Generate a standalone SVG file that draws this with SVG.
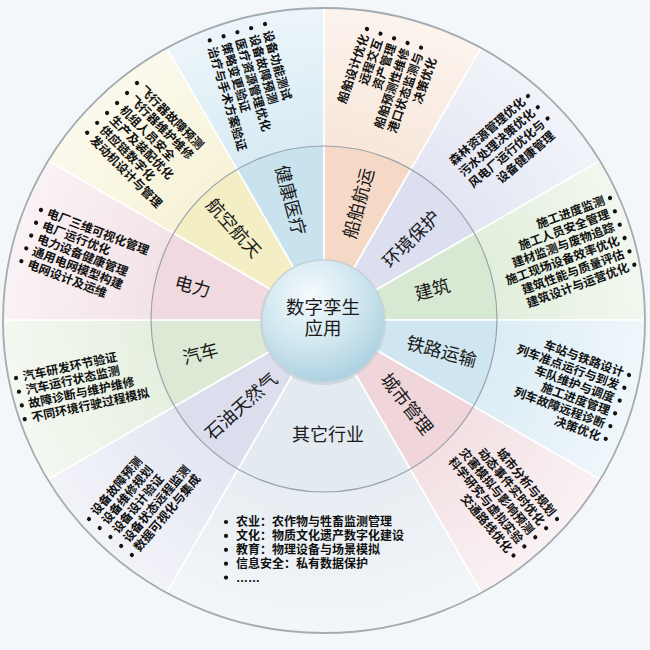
<svg xmlns="http://www.w3.org/2000/svg" width="650" height="650" viewBox="0 0 650 650">
<defs>
<style>
.lst{font-family:"Noto Sans CJK SC","Noto Sans",sans-serif;font-size:12px;font-weight:700;fill:#111}
.lst2{font-family:"Liberation Sans","Noto Sans CJK SC",sans-serif;font-size:12px;font-weight:700;fill:#111}
.end{text-anchor:end}
.lbl{font-family:"Noto Sans CJK SC","Noto Sans",sans-serif;font-size:18px;fill:#1a1a1a;text-anchor:middle;dominant-baseline:central}
.ctr{font-family:"Liberation Sans","Noto Sans CJK SC",sans-serif;font-size:18.5px;fill:#1a1a1a;text-anchor:middle}
.sep{stroke:#ffffff;stroke-width:1.6}
.b{fill:#111}
</style>
<clipPath id="outerClip"><ellipse cx="324" cy="320.5" rx="321" ry="312.5"/></clipPath>
<clipPath id="innerClip"><circle cx="324" cy="319" r="173"/></clipPath>
<radialGradient id="fade" gradientUnits="userSpaceOnUse" cx="324" cy="320" r="321">
<stop offset="0.54" stop-color="#ffffff" stop-opacity="0"/>
<stop offset="1" stop-color="#ffffff" stop-opacity="0.55"/>
</radialGradient>
<radialGradient id="hub" cx="0.4" cy="0.3" r="0.75">
<stop offset="0" stop-color="#f6fbfd"/>
<stop offset="0.55" stop-color="#cfe6ef"/>
<stop offset="1" stop-color="#a8cfdf"/>
</radialGradient>
</defs>
<rect x="0" y="0" width="650" height="650" fill="#f3f7fa"/>

<g id="sector-chuanbo">
<polygon class="sep" clip-path="url(#outerClip)" fill="#f8e7da" points="324,320 324,-180 574,-113"/>
<polygon clip-path="url(#outerClip)" fill="url(#fade)" points="324,320 324,-180 574,-113"/>
<polygon class="sep" clip-path="url(#innerClip)" fill="#f5d9c6" points="324,320 324,-180 574,-113"/>
<text class="lbl" transform="translate(357,203) rotate(-75)">船舶航运</text>
<g class="lst end" transform="translate(367,29) rotate(-71)">
<circle class="b" cx="0" cy="0" r="2.1"/><text x="-6" y="4.2">船舶设计优化</text>
<circle class="b" cx="0" cy="14.3" r="2.1"/><text x="-6" y="18.5">远程交互</text>
<circle class="b" cx="0" cy="28.6" r="2.1"/><text x="-6" y="32.8">资产管理</text>
<circle class="b" cx="0" cy="42.9" r="2.1"/><text x="-6" y="47.1">船舶预测性维修</text>
<circle class="b" cx="0" cy="57.2" r="2.1"/><text x="-6" y="61.4">港口状态监测与</text>
<text x="-6" y="75.7">决策优化</text>
</g>
</g>

<g id="sector-huanjing">
<polygon class="sep" clip-path="url(#outerClip)" fill="#e3e6f3" points="324,320 574,-113 757,70"/>
<polygon clip-path="url(#outerClip)" fill="url(#fade)" points="324,320 574,-113 757,70"/>
<polygon class="sep" clip-path="url(#innerClip)" fill="#dcdff0" points="324,320 574,-113 757,70"/>
<text class="lbl" transform="translate(410,238) rotate(-45)">环境保护</text>
<g class="lst end" transform="translate(528,96) rotate(-41)">
<circle class="b" cx="0" cy="0" r="2.1"/><text x="-6" y="4.2">森林资源管理优化</text>
<circle class="b" cx="0" cy="14.9" r="2.1"/><text x="-6" y="19.1">污水处理决策优化</text>
<circle class="b" cx="0" cy="29.8" r="2.1"/><text x="-6" y="34">风电厂运行优化与</text>
<text x="-6" y="48.9">设备健康管理</text>
</g>
</g>

<g id="sector-jianzhu">
<polygon class="sep" clip-path="url(#outerClip)" fill="#e2efdc" points="324,320 757,70 824,320"/>
<polygon clip-path="url(#outerClip)" fill="url(#fade)" points="324,320 757,70 824,320"/>
<polygon class="sep" clip-path="url(#innerClip)" fill="#d8e9d3" points="324,320 757,70 824,320"/>
<text class="lbl" transform="translate(432,288) rotate(-15)">建筑</text>
<g class="lst end" transform="translate(610,198) rotate(-20)">
<circle class="b" cx="0" cy="0" r="2.1"/><text x="-6" y="4.2">施工进度监测</text>
<circle class="b" cx="0" cy="14.2" r="2.1"/><text x="-6" y="18.4">施工人员安全管理</text>
<circle class="b" cx="0" cy="28.4" r="2.1"/><text x="-6" y="32.6">建材监测与废物追踪</text>
<circle class="b" cx="0" cy="42.6" r="2.1"/><text x="-6" y="46.8">施工现场设备效率优化</text>
<circle class="b" cx="0" cy="56.8" r="2.1"/><text x="-6" y="61">建筑性能与质量评估</text>
<circle class="b" cx="0" cy="71" r="2.1"/><text x="-6" y="75.2">建筑设计与运营优化</text>
</g>
</g>

<g id="sector-tielu">
<polygon class="sep" clip-path="url(#outerClip)" fill="#dcedf5" points="324,320 824,320 757,570"/>
<polygon clip-path="url(#outerClip)" fill="url(#fade)" points="324,320 824,320 757,570"/>
<polygon class="sep" clip-path="url(#innerClip)" fill="#cfe6f0" points="324,320 824,320 757,570"/>
<text class="lbl" transform="translate(442,350) rotate(15)">铁路运输</text>
<g class="lst end" transform="translate(629,375) rotate(20)">
<circle class="b" cx="0" cy="0" r="2.1"/><text x="-6" y="4.2">车站与铁路设计</text>
<circle class="b" cx="0" cy="13.6" r="2.1"/><text x="-6" y="17.8">列车准点运行与到发</text>
<circle class="b" cx="0" cy="27.2" r="2.1"/><text x="-6" y="31.4">车队维护与调度</text>
<circle class="b" cx="0" cy="40.8" r="2.1"/><text x="-6" y="45">施工进度管理</text>
<circle class="b" cx="0" cy="54.4" r="2.1"/><text x="-6" y="58.6">列车故障远程诊断</text>
<circle class="b" cx="0" cy="68" r="2.1"/><text x="-6" y="72.2">决策优化</text>
</g>
</g>

<g id="sector-chengshi">
<polygon class="sep" clip-path="url(#outerClip)" fill="#f3e1e4" points="324,320 757,570 574,753"/>
<polygon clip-path="url(#outerClip)" fill="url(#fade)" points="324,320 757,570 574,753"/>
<polygon class="sep" clip-path="url(#innerClip)" fill="#f0d6da" points="324,320 757,570 574,753"/>
<text class="lbl" transform="translate(408,403) rotate(52)">城市管理</text>
<g class="lst end" transform="translate(557,519) rotate(50)">
<circle class="b" cx="0" cy="0" r="2.1"/><text x="-6" y="4.2">城市分析与规划</text>
<circle class="b" cx="0" cy="14.2" r="2.1"/><text x="-6" y="18.4">动态事件实时优化</text>
<circle class="b" cx="0" cy="28.4" r="2.1"/><text x="-6" y="32.6">灾害模拟与影响预测</text>
<circle class="b" cx="0" cy="42.6" r="2.1"/><text x="-6" y="46.8">科学研究与虚拟实验</text>
<circle class="b" cx="0" cy="56.8" r="2.1"/><text x="-6" y="61">交通路线优化</text>
</g>
</g>

<g id="sector-qita">
<polygon class="sep" clip-path="url(#outerClip)" fill="#e7edf2" points="324,320 574,753 324,820 74,753"/>
<polygon clip-path="url(#outerClip)" fill="url(#fade)" points="324,320 574,753 324,820 74,753"/>
<polygon class="sep" clip-path="url(#innerClip)" fill="#e3eaf0" points="324,320 574,753 324,820 74,753"/>
<text class="lbl" x="328" y="433">其它行业</text>
<g class="lst2">
<circle class="b" cx="226" cy="522" r="2.1"/>
<circle class="b" cx="226" cy="535.9" r="2.1"/>
<circle class="b" cx="226" cy="549.8" r="2.1"/>
<circle class="b" cx="226" cy="563.7" r="2.1"/>
<circle class="b" cx="226" cy="577.6" r="2.1"/>
<text x="236" y="526.2">农业：农作物与牲畜监测管理</text>
<text x="236" y="540.1">文化：物质文化遗产数字化建设</text>
<text x="236" y="554">教育：物理设备与场景模拟</text>
<text x="236" y="567.9">信息安全：私有数据保护</text>
<text x="236" y="581.8">……</text>
</g>
</g>

<g id="sector-shiyou">
<polygon class="sep" clip-path="url(#outerClip)" fill="#e4e6f2" points="324,320 74,753 -109,570"/>
<polygon clip-path="url(#outerClip)" fill="url(#fade)" points="324,320 74,753 -109,570"/>
<polygon class="sep" clip-path="url(#innerClip)" fill="#dcdeee" points="324,320 74,753 -109,570"/>
<text class="lbl" transform="translate(240,405) rotate(-42)">石油天然气</text>
<g class="lst" transform="translate(89,519) rotate(-50)">
<circle class="b" cx="0" cy="0" r="2.1"/><text x="7" y="4.2">设备故障预测</text>
<circle class="b" cx="0" cy="14" r="2.1"/><text x="7" y="18.2">设备维修规划</text>
<circle class="b" cx="0" cy="28" r="2.1"/><text x="7" y="32.2">设备设计验证</text>
<circle class="b" cx="0" cy="42" r="2.1"/><text x="7" y="46.2">设备状态远程监测</text>
<circle class="b" cx="0" cy="56" r="2.1"/><text x="7" y="60.2">数据可视化与集成</text>
</g>
</g>

<g id="sector-qiche">
<polygon class="sep" clip-path="url(#outerClip)" fill="#e6f0e0" points="324,320 -109,570 -176,320"/>
<polygon clip-path="url(#outerClip)" fill="url(#fade)" points="324,320 -109,570 -176,320"/>
<polygon class="sep" clip-path="url(#innerClip)" fill="#dcead5" points="324,320 -109,570 -176,320"/>
<text class="lbl" transform="translate(200,352) rotate(-15)">汽车</text>
<g class="lst" transform="translate(16,378) rotate(-12)">
<circle class="b" cx="0" cy="0" r="2.1"/><text x="7" y="4.2">汽车研发环节验证</text>
<circle class="b" cx="0" cy="14" r="2.1"/><text x="7" y="18.2">汽车运行状态监测</text>
<circle class="b" cx="0" cy="28" r="2.1"/><text x="7" y="32.2">故障诊断与维护维修</text>
<circle class="b" cx="0" cy="42" r="2.1"/><text x="7" y="46.2">不同环境行驶过程模拟</text>
</g>
</g>

<g id="sector-dianli">
<polygon class="sep" clip-path="url(#outerClip)" fill="#f3e3e7" points="324,320 -176,320 -109,70"/>
<polygon clip-path="url(#outerClip)" fill="url(#fade)" points="324,320 -176,320 -109,70"/>
<polygon class="sep" clip-path="url(#innerClip)" fill="#f0d9df" points="324,320 -176,320 -109,70"/>
<text class="lbl" transform="translate(193,285) rotate(15)">电力</text>
<g class="lst" transform="translate(41,210) rotate(21)">
<circle class="b" cx="0" cy="0" r="2.1"/><text x="7" y="4.2">电厂三维可视化管理</text>
<circle class="b" cx="0" cy="13.7" r="2.1"/><text x="7" y="17.9">电厂运行优化</text>
<circle class="b" cx="0" cy="27.4" r="2.1"/><text x="7" y="31.6">电力设备健康管理</text>
<circle class="b" cx="0" cy="41.1" r="2.1"/><text x="7" y="45.3">通用电网模型构建</text>
<circle class="b" cx="0" cy="54.8" r="2.1"/><text x="7" y="59">电网设计及运维</text>
</g>
</g>

<g id="sector-hangkong">
<polygon class="sep" clip-path="url(#outerClip)" fill="#f7f3d8" points="324,320 -109,70 74,-113"/>
<polygon clip-path="url(#outerClip)" fill="url(#fade)" points="324,320 -109,70 74,-113"/>
<polygon class="sep" clip-path="url(#innerClip)" fill="#f4eec4" points="324,320 -109,70 74,-113"/>
<text class="lbl" transform="translate(235,227) rotate(48)">航空航天</text>
<g class="lst" transform="translate(137,83) rotate(45)">
<circle class="b" cx="0" cy="0" r="2.1"/><text x="7" y="4.2">飞行器故障预测</text>
<circle class="b" cx="0" cy="14.1" r="2.1"/><text x="7" y="18.3">飞行器维护维修</text>
<circle class="b" cx="0" cy="28.2" r="2.1"/><text x="7" y="32.4">机组人员安全</text>
<circle class="b" cx="0" cy="42.3" r="2.1"/><text x="7" y="46.5">生产及装配优化</text>
<circle class="b" cx="0" cy="56.4" r="2.1"/><text x="7" y="60.6">供应链数字化</text>
<circle class="b" cx="0" cy="70.5" r="2.1"/><text x="7" y="74.7">发动机设计与管理</text>
</g>
</g>

<g id="sector-jiankang">
<polygon class="sep" clip-path="url(#outerClip)" fill="#d8ebf4" points="324,320 74,-113 324,-180"/>
<polygon clip-path="url(#outerClip)" fill="url(#fade)" points="324,320 74,-113 324,-180"/>
<polygon class="sep" clip-path="url(#innerClip)" fill="#c9e3ee" points="324,320 74,-113 324,-180"/>
<text class="lbl" transform="translate(292,200) rotate(75)">健康医疗</text>
<g class="lst" transform="translate(265,24) rotate(73.5)">
<circle class="b" cx="0" cy="0" r="2.1"/><text x="7" y="4.2">设备功能测试</text>
<circle class="b" cx="0" cy="14.4" r="2.1"/><text x="7" y="18.6">设备故障预测</text>
<circle class="b" cx="0" cy="28.8" r="2.1"/><text x="7" y="33">医疗资源管理优化</text>
<circle class="b" cx="0" cy="43.2" r="2.1"/><text x="7" y="47.4">策略变更验证</text>
<circle class="b" cx="0" cy="57.6" r="2.1"/><text x="7" y="61.8">治疗与手术方案验证</text>
</g>
</g>

<g id="rings" fill="none">
<circle cx="324" cy="319" r="173" stroke="#9aa3aa" stroke-width="1.2"/>
<ellipse cx="324" cy="320.5" rx="321" ry="312.5" stroke="#a3abb2" stroke-width="1.8"/>
</g>

<g id="hub-node">
<circle cx="323" cy="322" r="63" fill="#b9c6cd" opacity="0.5"/>
<circle cx="323" cy="321" r="61" fill="url(#hub)" stroke="#c3d2d9" stroke-width="1"/>
<text class="ctr" x="323" y="313.5">数字孪生</text>
<text class="ctr" x="323" y="335">应用</text>
</g>
</svg>
